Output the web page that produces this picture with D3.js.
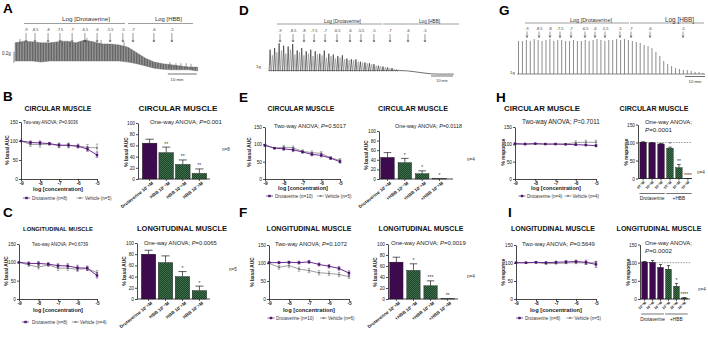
<!DOCTYPE html>
<html><head><meta charset="utf-8">
<script src="https://cdn.jsdelivr.net/npm/d3@7/dist/d3.min.js"></script>
<style>
html,body{margin:0;padding:0;background:#fff;}
svg{display:block;font-family:Arial,"Liberation Sans",Helvetica,sans-serif;}
</style></head><body>
<svg id="chart" width="708" height="337" viewBox="0 0 708 337"></svg>
<script>
// ======================= DATA =======================
const conc = [-9, -8.5, -8, -7.5, -7, -6.5, -6, -5.5, -5];
const concTicks = [-9, -8, -7, -6, -5];
const pctTicks = [0, 50, 100, 150];
const aucTicks = [0, 20, 40, 60, 80, 100];
const drotAddLabels = ["-9","-8.5","-8","-7.5","-7","-6.5","-6","-5.5","-5"];
const hbbAddLabels = ["-7","-6","-5"];

// Panel A trace (time, min; tension, g)
const traceATime = [0,3,6,9,12,15,18,21,24,27,30,33,36,39,42,45,48,51,54,57,60,63];
const traceATop = [0.53,0.56,0.55,0.53,0.53,0.55,0.56,0.53,0.58,0.55,0.51,0.51,0.49,0.45,0.35,0.25,0.18,0.15,0.13,0.11,0.09,0.09];
const traceABottom = [0.20,0.20,0.20,0.18,0.20,0.20,0.20,0.20,0.20,0.20,0.20,0.20,0.20,0.18,0.15,0.11,0.07,0.05,0.04,0.04,0.04,0.02];
const traceASpikeTime = [1.7,16.2,19,24.8,29.7,37.6,53.4,55.5,57.2,59,60.7];
const traceASpikeG = [0.60,0.58,0.56,0.62,0.58,0.55,0.18,0.16,0.16,0.16,0.15];
const traceADrotAdd = [3.8,6.9,11.4,15.5,19.7,24.1,28.3,32.8,37.2];
const traceAHbbAdd = [40.7,47.9,54.1];

// Panel D trace (spike amplitudes, g)
const traceDSpikeG = [2.6,1.9,2.8,2.3,3.4,2.5,3.1,2.1,3.0,2.6,3.3,2.0,2.5,2.3,2.8,1.9,2.4,2.1,2.6,1.8,
  2.4,2.0,2.1,1.9,2.5,1.6,2.1,1.8,2.0,1.5,1.8,1.6,1.9,1.4,1.5,1.3,1.4,1.3,1.4,1.1,
  1.1,1.0,1.0,0.9,0.9,0.8,0.8,0.6,0.6,0.5,0.5,0.4,0.4,0.3,0.3,0.2,0.1,0.1];
const traceDTailTime = [59.5,63,66,70,74,77,84];
const traceDTailG = [0,-0.05,-0.15,-0.3,-0.42,-0.45,-0.45];
const traceDDrotAdd = [5,10.9,15.9,20.5,25.5,30.9,36.8,41.8,47.7];
const traceDHbbAdd = [55,63.2,70.9];

// Panel G trace (spike amplitudes, g)
const traceGSpikeG = [3.3,3.3,3.4,3.3,3.5,3.4,3.3,3.4,3.5,3.3,3.4,3.4,3.3,3.3,3.4,3.3,3.3,3.4,3.3,3.4,
  3.5,3.4,3.3,3.4,3.4,3.5,3.4,3.5,3.4,3.3,3.2,3.1,2.9,2.8,2.6,2.2,1.8,1.3,1.0,0.8,
  0.6,0.5,0.4,0.4,0.3,0.2,0.2,0.1];
const traceGDrotAdd = [5,11,16.5,21.5,27,34,39,44,51.5];
const traceGHbbAdd = [57,66.5,83];

// Line-chart series (% of basal / % response)
const drotB = [100,96,95,93,89,89,86,79,63], drotBErr = [0,4,5,3,5,5,4,6,6];
const vehB  = [100,91,91,92,88,88,87,83,82], vehBErr  = [0,5,7,3,6,6,5,8,10];
const drotE = [97,89,87,84,78,71,68,60,50],  drotEErr = [3,2,4,5,3,4,4,3,4];
const vehE  = [98,89,92,90,80,76,74,61,54],  vehEErr  = [2,2,5,5,4,5,5,4,5];
const drotH = [102,101,102,101,101,100,99,98,96], drotHErr = [1,2,1,1,1,1,2,2,3];
const vehH  = [100,100,101,100,100,101,105,106,106], vehHErr = [1,1,1,1,1,1,5,6,6];
const drotC = [100,97,97,95,91,90,85,84,64], drotCErr = [0,4,5,4,5,6,7,6,7];
const vehC  = [100,93,87,93,84,84,81,83,72], vehCErr  = [0,4,5,4,6,6,6,5,6];
const drotF = [101,101,102,101,103,96,91,85,72], drotFErr = [2,3,3,4,4,4,5,5,6];
const vehF  = [99,88,93,83,79,73,71,68,62], vehFErr = [2,5,6,6,6,6,6,6,5];
const drotI = [101,101,102,101,102,103,104,102,96], drotIErr = [1,1,2,2,3,4,4,6,8];
const vehI  = [100,100,101,98,99,100,101,100,101], vehIErr = [1,1,1,2,2,2,3,4,4];

// Bar charts
const barLabelsHBB  = ["Drotaverine 10\u207B\u2075M","HBB 10\u207B\u2077M","HBB 10\u207B\u2076M","HBB 10\u207B\u2075M"];
const barLabelsPlus = ["Drotaverine 10\u207B\u2075M","+HBB 10\u207B\u2077M","+HBB 10\u207B\u2076M","+HBB 10\u207B\u2075M"];
const barLabelsConc = ["10\u207B\u2077M","10\u207B\u2076M","10\u207B\u2075M","10\u207B\u2077M","10\u207B\u2076M","10\u207B\u2075M"];
const barGroupsHI = ["Drotaverine","+HBB"];
const barKind4 = ["d","h","h","h"];
const barKind6 = ["d","d","d","h","h","h"];
const barB = [64,47,26,10], barBErr = [7,10,8,8], starsB = ["","**","**","**"];
const barE = [45,34,11,0.5], barEErr = [10,9,6,0], starsE = ["","*","*","*"];
const barH = [101,99,96,84,30,0.5], barHErr = [1,1,1,3,9,0], starsH = ["","","","*","**","****"];
const barC = [80,65,40,15], barCErr = [7,12,9,8], starsC = ["","","*","*"];
const barF = [67,52,24,0.5], barFErr = [9,12,9,0], starsF = ["","*","***","**"];
const barI = [102,101,87,82,35,3], barIErr = [1,5,8,10,8,1], starsI = ["","","","","*","****"];

// ======================= DRAWING =======================
const FONT = 'Arial, "Liberation Sans", Helvetica, sans-serif';
const INK = "#1a1a1a", PURPLE_BAR = "#3d0b4d", PURPLE_LINE = "#6a2d8e", GREY = "#858585";
const svg = d3.select("#chart");
svg.append("rect").attr("width",708).attr("height",337).attr("fill","#fff");

const defs = svg.append("defs");
const pat = defs.append("pattern").attr("id","chk").attr("patternUnits","userSpaceOnUse").attr("width",2).attr("height",2);
pat.append("rect").attr("width",2).attr("height",2).attr("fill","#1c4829");
pat.append("rect").attr("width",1).attr("height",1).attr("fill","#3f6d4c");
pat.append("rect").attr("x",1).attr("y",1).attr("width",1).attr("height",1).attr("fill","#3f6d4c");
const osc = defs.append("pattern").attr("id","osc").attr("patternUnits","userSpaceOnUse").attr("width",1.6).attr("height",4);
osc.append("rect").attr("width",1.6).attr("height",4).attr("fill","#9a9a9a");
osc.append("rect").attr("width",0.8).attr("height",4).attr("fill","#5e5e5e");

function label(g, x, y, parts, o) {
  const t = g.append("text").attr("x",x).attr("y",y)
    .attr("font-size",o.fs).attr("fill",o.fill||INK).attr("text-anchor",o.anchor||"start");
  if (o.bold) t.attr("font-weight","bold");
  if (typeof parts === "string") t.text(parts);
  else parts.forEach(p => { const s = t.append("tspan").text(p[0]); if (p[1]) s.attr("font-style","italic"); });
  if (o.w) {
    const nat = t.node().getComputedTextLength();
    if (nat > 0) t.attr("font-size", o.fs * o.w / nat);
  }
  if (o.rot) t.attr("transform",`rotate(${o.rot},${x},${y})`);
  return t;
}
function styleAxis(a, fs, bold) {
  a.attr("font-family",FONT);
  a.select(".domain").attr("stroke",INK).attr("stroke-width",0.8);
  a.selectAll(".tick line").attr("stroke",INK).attr("stroke-width",0.8);
  a.selectAll(".tick text").attr("font-size",fs).attr("fill",INK).attr("font-weight",bold?"bold":null);
}

// ---------- panel letters ----------
[["A",3,13],["D",239,15],["G",499,15],["B",3,101],["E",239,102],["H",496,102],["C",3,217],["F",239,217],["I",508,217]]
  .forEach(([s,x,y]) => label(svg,x,y,s,{fs:13.5,bold:true,fill:"#000"}));

// ---------- trace headers ----------
function traceHeader(xT, P) {
  const g = svg.append("g");
  g.append("line").attr("x1",P.dLine[0]).attr("x2",P.dLine[1]).attr("y1",P.lineY).attr("y2",P.lineY).attr("stroke","#777").attr("stroke-width",0.7);
  g.append("line").attr("x1",P.hLine[0]).attr("x2",P.hLine[1]).attr("y1",P.lineY).attr("y2",P.lineY).attr("stroke","#777").attr("stroke-width",0.7);
  label(g,P.dText[0],P.textY,"Log [Drotaverine]",{fs:4.6,w:P.dText[1],fill:"#333"});
  label(g,P.hText[0],P.textY,"Log [HBB]",{fs:4.6,w:P.hText[1],fill:"#333"});
  const adds = P.drotAdd.map((t,i)=>({t,l:drotAddLabels[i]})).concat(P.hbbAdd.map((t,i)=>({t,l:hbbAddLabels[i]})));
  adds.forEach(d => {
    const x = xT(d.t);
    label(g,x,P.tickY,d.l,{fs:3.8,anchor:"middle",fill:"#333"});
    g.append("path").attr("d",`M${x},${P.aTop}V${P.aBot}M${x-1},${P.aBot-2}L${x},${P.aBot}L${x+1},${P.aBot-2}`)
      .attr("fill","none").attr("stroke","#333").attr("stroke-width",0.5);
  });
}

// Panel A
{
  const xA = d3.scaleLinear().domain([0,63]).range([15,197.7]);
  const yA = d3.scaleLinear().domain([0,0.6]).range([72,39]);
  const g = svg.append("g");
  const pts = traceATime.map((t,i)=>({t,top:traceATop[i],bot:traceABottom[i]}));
  g.append("path").datum(pts).attr("d",d3.area().x(d=>xA(d.t)).y0(d=>yA(d.bot)).y1(d=>yA(d.top)))
    .attr("fill","url(#osc)").attr("stroke","#666").attr("stroke-width",0.4);
  traceASpikeTime.forEach((t,i)=>{
    g.append("line").attr("x1",xA(t)).attr("x2",xA(t)).attr("y1",yA(traceASpikeG[i]-0.1)).attr("y2",yA(traceASpikeG[i]))
      .attr("stroke","#555").attr("stroke-width",0.6);
  });
  traceHeader(xA,{dLine:[24,125],hLine:[128,193],lineY:23.5,dText:[62,48],hText:[155,27],textY:21,tickY:31,aTop:33,aBot:42,
    drotAdd:traceADrotAdd,hbbAdd:traceAHbbAdd});
  g.append("line").attr("x1",xA(52.7)).attr("x2",xA(62.7)).attr("y1",74).attr("y2",74).attr("stroke","#333").attr("stroke-width",0.7);
  label(g,177,80.5,"10 min",{fs:4.3,anchor:"middle",fill:"#333"});
  g.append("line").attr("x1",14).attr("x2",14).attr("y1",yA(0.37)).attr("y2",yA(0.17)).attr("stroke","#333").attr("stroke-width",0.6);
  label(g,2,55,"0.2g",{fs:4.5,fill:"#333"});
}
// Panel D
{
  const xD = d3.scaleLinear().domain([0,84]).range([269,453.8]);
  const yD = d3.scaleLinear().domain([0,1]).range([70.5,62.5]);
  const xs = d3.scalePoint().domain(d3.range(traceDSpikeG.length)).range([xD(0.5),xD(59)]);
  const g = svg.append("g");
  g.append("line").attr("x1",xD(0)).attr("x2",xD(59.5)).attr("y1",yD(0)).attr("y2",yD(0)).attr("stroke","#333").attr("stroke-width",0.6);
  traceDSpikeG.forEach((a,i)=>{
    const x = xs(i);
    g.append("path").attr("d",`M${x-1},${yD(0)+0.8}L${x},${yD(a)}L${x+1},${yD(0)+0.8}`)
      .attr("fill","none").attr("stroke",i%2?"#8c8c8c":"#1e1e1e").attr("stroke-width",0.6);
  });
  g.append("path").datum(traceDTailTime.map((t,i)=>({t,v:traceDTailG[i]})))
    .attr("d",d3.line().x(d=>xD(d.t)).y(d=>yD(d.v))).attr("fill","none").attr("stroke","#333").attr("stroke-width",0.7);
  traceHeader(xD,{dLine:[277,382],hLine:[383,459],lineY:24,dText:[324,37],hText:[419,21],textY:23,tickY:32,aTop:34,aBot:42,
    drotAdd:traceDDrotAdd,hbbAdd:traceDHbbAdd});
  g.append("line").attr("x1",431).attr("x2",453).attr("y1",76).attr("y2",76).attr("stroke","#333").attr("stroke-width",0.7);
  label(g,442,82,"10 min",{fs:3.8,anchor:"middle",fill:"#333"});
  label(g,256,68,"1g",{fs:4.3,fill:"#333"});
}
// Panel G
{
  const xG = d3.scaleLinear().domain([0,94]).range([517,705]);
  const yG = d3.scaleLinear().domain([0,1]).range([74,64]);
  const xs = d3.scalePoint().domain(d3.range(traceGSpikeG.length)).range([518.5,703]);
  const g = svg.append("g");
  g.append("line").attr("x1",517).attr("x2",705).attr("y1",yG(0)).attr("y2",yG(0)).attr("stroke","#555").attr("stroke-width",0.7);
  traceGSpikeG.forEach((a,i)=>{
    g.append("line").attr("x1",xs(i)).attr("x2",xs(i)).attr("y1",yG(0)).attr("y2",yG(a)).attr("stroke","#6e6e6e").attr("stroke-width",0.8);
  });
  traceHeader(xG,{dLine:[525,629],hLine:[630,704],lineY:23,dText:[570,42],hText:[665,29],textY:21.5,tickY:29.5,aTop:31.5,aBot:37.5,
    drotAdd:traceGDrotAdd,hbbAdd:traceGHbbAdd});
  g.append("line").attr("x1",685).attr("x2",705).attr("y1",76.5).attr("y2",76.5).attr("stroke","#333").attr("stroke-width",0.7);
  label(g,695,82.5,"10 min",{fs:4.3,anchor:"middle",fill:"#333"});
  label(g,510,74,"1g",{fs:4.3,fill:"#333"});
}

// ---------- titles ----------
function title(cx, y, s, w) {
  label(svg,cx,y,s,{fs:7,bold:true,anchor:"middle",w:w,fill:"#111"});
}

// ---------- line chart ----------
function lineChart(P) {
  const g = svg.append("g");
  const x = d3.scaleLinear().domain([-9,-5]).range([P.x0,P.x1]);
  const y = d3.scaleLinear().domain([0,150]).range([P.y0,P.y150]);
  styleAxis(g.append("g").attr("transform",`translate(${P.x0},0)`)
    .call(d3.axisLeft(y).tickValues(pctTicks).tickSize(2).tickSizeOuter(0).tickPadding(1)), 4.8, false);
  styleAxis(g.append("g").attr("transform",`translate(0,${P.y0})`)
    .call(d3.axisBottom(x).tickValues(concTicks).tickFormat(d=>String(d)).tickSize(2).tickSizeOuter(0).tickPadding(1)), 4.8, true);
  const series = [[P.veh,P.vehErr,GREY,false],[P.drot,P.drotErr,PURPLE_LINE,true]];
  series.forEach(([v,e,c,isD]) => {
    const pts = conc.map((cx,i)=>({x:cx,v:v[i],e:e[i]}));
    const eb = g.append("g").attr("stroke",c).attr("stroke-width",0.6);
    pts.filter(d=>d.e>0).forEach(d=>{
      const X = x(d.x);
      eb.append("line").attr("x1",X).attr("x2",X).attr("y1",y(d.v-d.e)).attr("y2",y(d.v+d.e));
      eb.append("line").attr("x1",X-1.3).attr("x2",X+1.3).attr("y1",y(d.v-d.e)).attr("y2",y(d.v-d.e));
      eb.append("line").attr("x1",X-1.3).attr("x2",X+1.3).attr("y1",y(d.v+d.e)).attr("y2",y(d.v+d.e));
    });
    g.append("path").datum(pts).attr("fill","none").attr("stroke",c).attr("stroke-width",isD?1:0.8)
      .attr("d",d3.line().x(d=>x(d.x)).y(d=>y(d.v)));
    g.selectAll(null).data(pts).join("rect")
      .attr("x",d=>x(d.x)-(isD?1.2:0.8)).attr("y",d=>y(d.v)-(isD?1.2:0.8))
      .attr("width",isD?2.4:1.6).attr("height",isD?2.4:1.6).attr("fill",isD?"#4a1466":"#666");
  });
  const a = P.anova;
  label(g,a[0],a[1],[["Two-way ANOVA; ",false],["P",true],["="+a[3],false]],{fs:5,w:a[2],fill:"#222"});
  label(g,P.ylab[0],P.ylab[1],P.ylab[2],{fs:4.8,anchor:"middle",rot:-90,bold:true,fill:"#222"});
  label(g,P.xlab[0],P.xlab[1],"log [concentration]",{fs:5,anchor:"middle",bold:true,w:P.xlab[2],fill:"#222"});
  const ly = P.leg.y;
  [[P.leg.d,PURPLE_LINE,"#4a1466",2.4],[P.leg.v,GREY,"#666",1.6]].forEach(([L,c,mc,ms])=>{
    g.append("line").attr("x1",L[0]-3.5).attr("x2",L[0]+3.5).attr("y1",ly).attr("y2",ly).attr("stroke",c).attr("stroke-width",0.8);
    g.append("rect").attr("x",L[0]-ms/2).attr("y",ly-ms/2).attr("width",ms).attr("height",ms).attr("fill",mc);
    label(g,L[1],ly+1.7,L[2],{fs:4.5,fill:"#333"});
  });
}

// ---------- bar chart ----------
function barChart(P) {
  const g = svg.append("g");
  const n = P.vals.length;
  const x = d3.scaleBand().domain(d3.range(n)).range([P.bx0,P.bx1]).paddingInner(P.pi).paddingOuter(P.po);
  const y = d3.scaleLinear().domain([0,P.yMax]).range([P.y0,P.yTop]);
  styleAxis(g.append("g").attr("transform",`translate(${P.ax},0)`)
    .call(d3.axisLeft(y).tickValues(P.ticks).tickSize(2).tickSizeOuter(0).tickPadding(1)), 4.8, false);
  g.append("line").attr("x1",P.ax).attr("x2",P.xEnd).attr("y1",P.y0).attr("y2",P.y0).attr("stroke",INK).attr("stroke-width",0.8);
  if (P.ref) g.append("line").attr("x1",P.ax).attr("x2",P.ref).attr("y1",y(100)).attr("y2",y(100))
    .attr("stroke","#555").attr("stroke-width",0.6).attr("stroke-dasharray","1.5,1.2");
  const bw = x.bandwidth();
  P.vals.forEach((v,i)=>{
    const X = x(i), cx = X + bw/2, e = P.errs[i];
    g.append("line").attr("x1",cx).attr("x2",cx).attr("y1",P.y0).attr("y2",P.y0+2).attr("stroke",INK).attr("stroke-width",0.7);
    if (e>0) {
      g.append("line").attr("x1",cx).attr("x2",cx).attr("y1",y(v)).attr("y2",y(v+e)).attr("stroke",INK).attr("stroke-width",0.7);
      g.append("line").attr("x1",cx-bw*0.28).attr("x2",cx+bw*0.28).attr("y1",y(v+e)).attr("y2",y(v+e)).attr("stroke",INK).attr("stroke-width",0.7);
    }
    g.append("rect").attr("x",X).attr("y",y(v)).attr("width",bw).attr("height",P.y0-y(v))
      .attr("fill",P.kind[i]==="d"?PURPLE_BAR:"url(#chk)").attr("stroke","#111").attr("stroke-width",0.4);
    if (P.stars[i]) label(g,cx,y(v+e)-1.5,P.stars[i],{fs:5,anchor:"middle",fill:"#333"});
    if (P.small) label(g,cx+1.8,P.y0+4,P.labels[i],{fs:3.6,anchor:"end",rot:-45,bold:true,fill:"#222"});
    else label(g,cx+4,P.y0+5,P.labels[i],{fs:4.6,anchor:"end",rot:-38,bold:true,fill:"#222"});
  });
  if (P.groups) {
    [[0,2],[3,5]].forEach(([a,b],k)=>{
      const x1 = x(a)-0.5, x2 = x(b)+bw+0.5;
      g.append("line").attr("x1",x1).attr("x2",x2).attr("y1",P.y0+15).attr("y2",P.y0+15).attr("stroke",INK).attr("stroke-width",0.6);
      label(g,(x1+x2)/2,P.y0+21.5,P.groups[k],{fs:4.8,anchor:"middle",fill:"#222"});
    });
  }
  const a = P.anova;
  if (P.twoLine) {
    label(g,a[0],a[1],"One-way ANOVA;",{fs:5.6,w:47,fill:"#222"});
    label(g,a[0],a[1]+7.5,[["P",true],["="+a[3],false]],{fs:5.6,w:27,fill:"#222"});
  } else {
    label(g,a[0],a[1],[["One-way ANOVA; ",false],["P",true],["="+a[3],false]],{fs:5,w:a[2],fill:"#222"});
  }
  label(g,P.ylab[0],P.ylab[1],P.ylab[2],{fs:4.8,anchor:"middle",rot:-90,bold:true,fill:"#222"});
  label(g,P.nlab[0],P.nlab[1],P.nlab[2],{fs:4.6,fill:"#333"});
}

// ----- row 1 -----
title(58,111,"CIRCULAR MUSCLE",67);
title(178,111,"CIRCULAR MUSCLE",79);
title(301,111,"CIRCULAR MUSCLE",67);
title(413,111,"CIRCULAR MUSCLE",70);
title(542,111,"CIRCULAR MUSCLE",76);
title(654,111,"CIRCULAR MUSCLE",69);
// ----- row 2 -----
title(58,231,"LONGITUDINAL MUSCLE",70);
title(182,231,"LONGITUDINAL MUSCLE",90);
title(309,231,"LONGITUDINAL MUSCLE",85);
title(421,231,"LONGITUDINAL MUSCLE",85);
title(553,231,"LONGITUDINAL MUSCLE",84);
title(659,231,"LONGITUDINAL MUSCLE",85);

lineChart({x0:21,x1:97,y0:179,y150:122,drot:drotB,drotErr:drotBErr,veh:vehB,vehErr:vehBErr,
  anova:[23,124,55,"0.9036"],ylab:[9,150,"% basal AUC"],xlab:[58,191,50],
  leg:{y:198,d:[26.5,32,"Drotaverine (n=8)"],v:[80,85,"Vehicle (n=5)"]}});
lineChart({x0:265,x1:340,y0:179,y150:127,drot:drotE,drotErr:drotEErr,veh:vehE,vehErr:vehEErr,
  anova:[274,128,72,"0.5017"],ylab:[251,152,"% basal AUC"],xlab:[303,190,50],
  leg:{y:196,d:[269.5,275,"Drotaverine (n=10)"],v:[320.5,325,"Vehicle (n=5)"]}});
lineChart({x0:515,x1:596,y0:179,y150:127,drot:drotH,drotErr:drotHErr,veh:vehH,vehErr:vehHErr,
  anova:[522,124,78,"0.7011"],ylab:[505,152,"% response"],xlab:[556,190,50],
  leg:{y:196,d:[522,527,"Drotaverine (n=4)"],v:[568,572.5,"Vehicle (n=4)"]}});
lineChart({x0:19,x1:97,y0:299,y150:244,drot:drotC,drotErr:drotCErr,veh:vehC,vehErr:vehCErr,
  anova:[32,246,56,"0.6739"],ylab:[8,271,"% basal AUC"],xlab:[58,312,50],
  leg:{y:322,d:[25.5,32,"Drotaverine (n=8)"],v:[75.5,80,"Vehicle (n=4)"]}});
lineChart({x0:269,x1:349,y0:299,y150:245,drot:drotF,drotErr:drotFErr,veh:vehF,vehErr:vehFErr,
  anova:[275,246,72,"0.1072"],ylab:[254,272,"% basal AUC"],xlab:[309,312,52],
  leg:{y:318,d:[271,276,"Drotaverine (n=10)"],v:[323.5,328,"Vehicle (n=6)"]}});
lineChart({x0:516,x1:596,y0:299,y150:245,drot:drotI,drotErr:drotIErr,veh:vehI,vehErr:vehIErr,
  anova:[522,246,73,"0.5649"],ylab:[505,272,"% response"],xlab:[556,312,52],
  leg:{y:318,d:[519.5,525,"Drotaverine (n=8)"],v:[570,574.5,"Vehicle (n=5)"]}});

barChart({ax:138,xEnd:210,bx0:141,bx1:208,pi:0.12,po:0.08,y0:179,yTop:123,yMax:100,ticks:aucTicks,
  vals:barB,errs:barBErr,kind:barKind4,stars:starsB,labels:barLabelsHBB,
  anova:[150,124,72,"0.001"],ylab:[128,152,"% basal AUC"],nlab:[222,151,"n=8"]});
barChart({ax:379,xEnd:453,bx0:379,bx1:448,pi:0.22,po:0.1,y0:179,yTop:131,yMax:100,ticks:aucTicks,
  vals:barE,errs:barEErr,kind:barKind4,stars:starsE,labels:barLabelsPlus,
  anova:[395,128,67,"0.0118"],ylab:[368,155,"% basal AUC"],nlab:[467,161,"n=4"]});
barChart({ax:638,xEnd:692,bx0:639,bx1:692,pi:0.28,po:0.1,y0:178.5,yTop:124.5,yMax:150,ticks:pctTicks,ref:692,
  vals:barH,errs:barHErr,kind:barKind6,stars:starsH,labels:barLabelsConc,small:true,groups:barGroupsHI,twoLine:true,
  anova:[645,124,47,"0.0001"],ylab:[628,152,"% response"],nlab:[697,174,"n=4"]});
barChart({ax:137,xEnd:210,bx0:140,bx1:208,pi:0.15,po:0.08,y0:299,yTop:243,yMax:100,ticks:aucTicks,
  vals:barC,errs:barCErr,kind:barKind4,stars:starsC,labels:barLabelsHBB,
  anova:[144,245,73,"0.0065"],ylab:[126,271,"% basal AUC"],nlab:[229,271,"n=5"]});
barChart({ax:388,xEnd:458,bx0:388,bx1:456,pi:0.22,po:0.1,y0:299,yTop:244,yMax:100,ticks:aucTicks,
  vals:barF,errs:barFErr,kind:barKind4,stars:starsF,labels:barLabelsPlus,
  anova:[391,245,75,"0.0019"],ylab:[377,272,"% basal AUC"],nlab:[467,278,"n=4"]});
barChart({ax:640,xEnd:690,bx0:641,bx1:688,pi:0.28,po:0.1,y0:299,yTop:244.5,yMax:150,ticks:pctTicks,ref:690,
  vals:barI,errs:barIErr,kind:barKind6,stars:starsI,labels:barLabelsConc,small:true,groups:barGroupsHI,twoLine:true,
  anova:[645,245,47,"0.0002"],ylab:[630,272,"% response"],nlab:[698,291,"n=4"]});
</script>
</body></html>
